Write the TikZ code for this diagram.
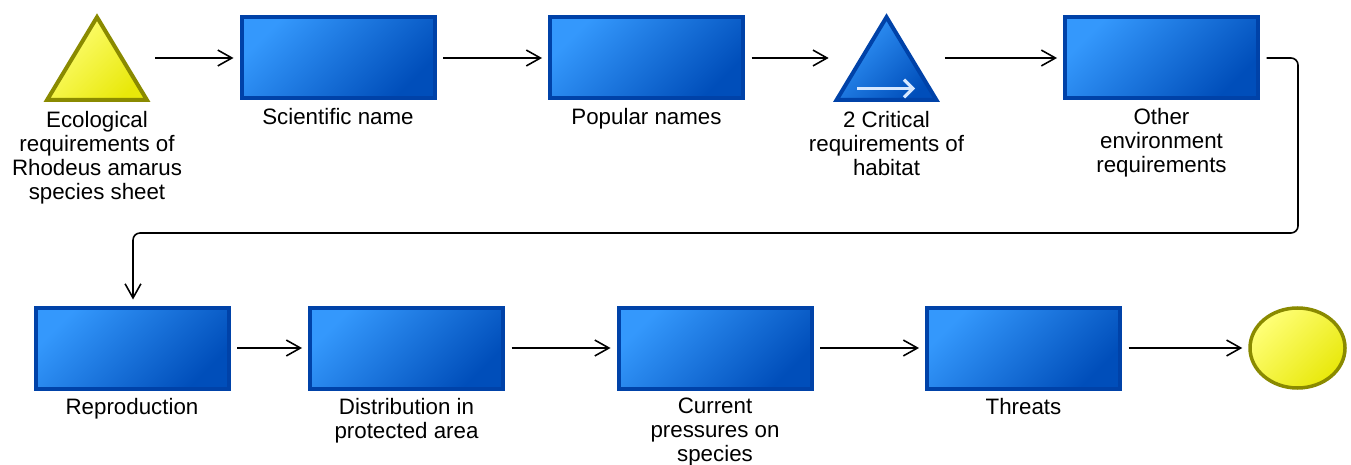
\documentclass[tikz,border=0pt]{standalone}
\usepackage{fontspec}
\setmainfont{Liberation Sans}
\usepackage{tikz}
\usetikzlibrary{positioning,arrows.meta,shapes.geometric}

\definecolor{boxlight}{RGB}{52,152,252}
\definecolor{boxdark}{RGB}{0,78,186}
\definecolor{boxline}{RGB}{0,66,168}
\definecolor{sunlight}{RGB}{255,255,120}
\definecolor{sundark}{RGB}{232,232,10}
\definecolor{sunline}{RGB}{138,138,0}
\definecolor{tinyarrow}{RGB}{215,232,255}

\tikzset{
	stage/.style={rectangle, draw=boxline, line width=0.08cm, left color=boxlight, right color=boxdark, shading angle=45, minimum width=3.86cm, minimum height=1.62cm, inner sep=0},
	trispot/.style={rectangle, minimum width=2.06cm, minimum height=1.74cm, inner sep=0},
	suntri/.style={draw=sunline, line width=0.08cm, left color=sunlight, right color=sundark, shading angle=45},
	bluetri/.style={draw=boxline, line width=0.08cm, left color=boxlight, right color=boxdark, shading angle=45},
	endevent/.style={ellipse, draw=sunline, line width=0.07cm, left color=sunlight, right color=sundark, shading angle=45, minimum width=1.9cm, minimum height=1.6cm, inner sep=0},
	caption/.style={align=center, font=\fontsize{12.7}{13.6}\selectfont, inner sep=0},
	flow/.style={-{Straight Barb[length=8pt,width=9pt]}, line width=0.9pt, shorten <=0.13cm, shorten >=0.12cm}
}

\begin{document}
\begin{tikzpicture}
	\useasboundingbox (0,0) rectangle (27.02,-9.30);

	\node[trispot] (eco) at (1.94,-1.16) {};
	\draw[suntri] ([shift={(0.04,0.04)}]eco.south west) -- ([yshift=-0.06cm]eco.north) -- ([shift={(-0.04,0.04)}]eco.south east) -- cycle;
	\node[stage] (sci) at (6.76,-1.16) {};
	\node[stage] (popular) at (12.93,-1.16) {};
	\node[trispot] (crit) at (17.73,-1.16) {};
	\draw[bluetri] ([shift={(0.04,0.04)}]crit.south west) -- ([yshift=-0.06cm]crit.north) -- ([shift={(-0.04,0.04)}]crit.south east) -- cycle;
	\draw[tinyarrow, line width=1.8pt, -{Straight Barb[length=5pt,width=10pt]}] ([shift={(-0.59,-0.61)}]crit.center) -- ([shift={(0.57,-0.61)}]crit.center);
	\node[stage] (other) at (23.23,-1.16) {};

	\node[stage] (repro) at (2.64,-6.96) {};
	\node[stage] (distrib) at (8.13,-6.96) {};
	\node[stage] (pressure) at (14.30,-6.96) {};
	\node[stage] (threat) at (20.47,-6.96) {};
	\node[endevent] (finish) at (25.95,-6.96) {};

	\node[caption, below=0.18cm of eco] (ecotext) {Ecological\\requirements of\\Rhodeus amarus\\species sheet};
	\node[caption, below=0.15cm of sci] (scitext) {Scientific name};
	\node[caption, below=0.15cm of popular] (populartext) {Popular names};
	\node[caption, below=0.18cm of crit] (crittext) {2 Critical\\requirements of\\habitat};
	\node[caption, below=0.15cm of other] (othertext) {Other\\environment\\requirements};
	\node[caption, below=0.15cm of repro] (reprotext) {Reproduction};
	\node[caption, below=0.15cm of distrib] (distribtext) {Distribution in\\protected area};
	\node[caption, below=0.15cm of pressure] (pressuretext) {Current\\pressures on\\species};
	\node[caption, below=0.15cm of threat] (threattext) {Threats};

	\draw[flow] (eco) -- (sci);
	\draw[flow] (sci) -- (popular);
	\draw[flow] (popular) -- (crit);
	\draw[flow] (crit) -- (other);
	\coordinate (loopy) at (2.66,-4.66);
	\draw[flow, rounded corners=4pt] (other.east) -- ++(0.76,0) |- (loopy) -- (repro.north -| loopy);
	\draw[flow] (repro) -- (distrib);
	\draw[flow] (distrib) -- (pressure);
	\draw[flow] (pressure) -- (threat);
	\draw[flow] (threat) -- (finish);
\end{tikzpicture}
\end{document}
